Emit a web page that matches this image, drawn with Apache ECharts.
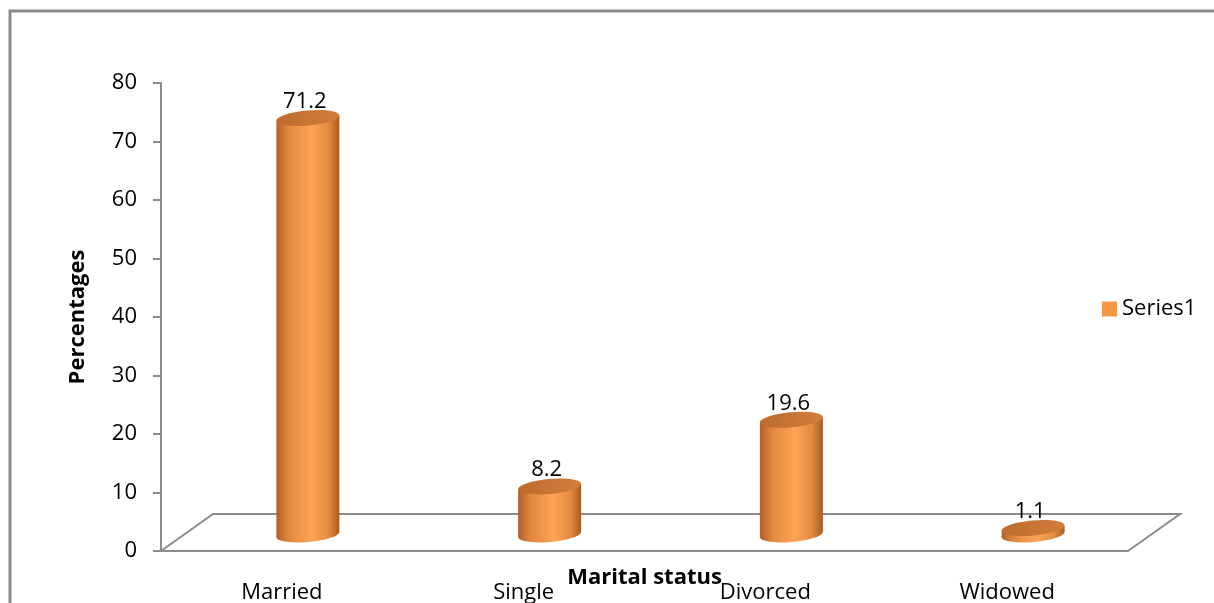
<!DOCTYPE html>
<html lang="en">

<head>
    <meta charset="UTF-8">
    <title>Marital status</title>
    <script src="https://cdn.jsdelivr.net/npm/echarts@6/dist/echarts.min.js"></script>
</head>

<body style="margin:0">
    <div id="myCharts" style="width: 1214px;height:603px;background:#fff;"></div>

    <script type="text/javascript">
        // 数据
        var categories = ['Married', 'Single', 'Divorced', 'Widowed']
        var percentages = [71.2, 8.2, 19.6, 1.1]
        var yTicks = [0, 10, 20, 30, 40, 50, 60, 70, 80]

        var depthX = 52, depthY = 37   // 地板深度
        var barW = 63, ellRy = 7.5, tilt = 0.09
        var font = 'Open Sans'

        var bodyColor = {
            type: 'linear', x: 0, y: 0, x2: 1, y2: 0,
            colorStops: [
                { offset: 0, color: '#b0602a' },
                { offset: 0.2, color: '#e2893f' },
                { offset: 0.55, color: '#fda456' },
                { offset: 0.82, color: '#e68c41' },
                { offset: 1, color: '#a95a20' }
            ]
        }
        var topColor = {
            type: 'linear', x: 0, y: 0, x2: 1, y2: 0,
            colorStops: [
                { offset: 0, color: '#bd6b30' },
                { offset: 1, color: '#d27d3a' }
            ]
        }

        var myChart = echarts.init(document.getElementById('myCharts'))

        function cylinder(params, api) {
            var base = api.coord([api.value(0), 0])
            var top = api.coord([api.value(0), api.value(1)])
            var cx = base[0] + depthX / 2
            var by = base[1] - depthY / 2 + 2
            var ty = top[1] - depthY / 2 + 2
            var rx = barW / 2
            var t = rx * Math.tan(tilt)
            return {
                type: 'group',
                children: [
                    {
                        type: 'ellipse',
                        shape: { cx: 0, cy: 0, rx: rx, ry: ellRy },
                        x: cx, y: by, rotation: tilt,
                        style: { fill: bodyColor }
                    },
                    {
                        type: 'polygon',
                        shape: { points: [[cx - rx, ty + t], [cx + rx, ty - t], [cx + rx, by - t], [cx - rx, by + t]] },
                        style: { fill: bodyColor }
                    },
                    {
                        type: 'ellipse',
                        shape: { cx: 0, cy: 0, rx: rx, ry: ellRy },
                        x: cx, y: ty, rotation: tilt,
                        style: { fill: topColor }
                    },
                    {
                        type: 'text',
                        x: cx - 3, y: ty - ellRy + 2,
                        style: {
                            text: String(api.value(1)),
                            align: 'center', verticalAlign: 'bottom',
                            font: '22px "Open Sans"', fill: '#000'
                        }
                    }
                ]
            }
        }

        function floor(params, api) {
            var g = params.coordSys
            var x0 = g.x, y0 = g.y + g.height, x1 = g.x + g.width
            return {
                type: 'polyline',
                shape: { points: [[x0, y0], [x0 + depthX, y0 - depthY], [x1 + depthX, y0 - depthY], [x1, y0]] },
                style: { stroke: '#8c8c8c', lineWidth: 2, fill: null }
            }
        }

        var option = {
            animation: false,
            graphic: [{
                type: 'rect',
                shape: { x: 10, y: 11, width: 1400, height: 800 },
                style: { fill: null, stroke: '#8a8a8a', lineWidth: 3 },
                z: -10
            }],
            legend: {
                data: ['Series1'],
                orient: 'vertical',
                left: 1102,
                top: 298,
                padding: 0,
                icon: 'rect',
                itemWidth: 15,
                itemHeight: 15,
                itemGap: 5,
                textStyle: { fontFamily: font, fontSize: 22, color: '#000' }
            },
            grid: { left: 161, right: 86, top: 83, bottom: 52, outerBoundsMode: 'none', containLabel: false },
            xAxis: {
                type: 'category',
                data: categories,
                name: 'Marital status',
                nameLocation: 'middle',
                nameGap: 16,
                nameMoveOverlap: false,
                nameTextStyle: { fontFamily: font, fontSize: 22, fontWeight: 'bold', color: '#000' },
                axisLine: { show: true, lineStyle: { color: '#8c8c8c', width: 2 } },
                axisTick: { show: false },
                axisLabel: { margin: 31, fontFamily: font, fontSize: 22, color: '#000' }
            },
            yAxis: {
                type: 'value',
                min: 0,
                max: yTicks[yTicks.length - 1],
                interval: yTicks[1] - yTicks[0],
                name: 'Percentages',
                nameLocation: 'middle',
                nameRotate: 90,
                nameGap: 72,
                nameTextStyle: { fontFamily: font, fontSize: 22, fontWeight: 'bold', color: '#000' },
                axisLine: { show: true, lineStyle: { color: '#8c8c8c', width: 2 } },
                axisTick: { show: true, length: 8, lineStyle: { color: '#8c8c8c', width: 2 } },
                splitLine: { show: false },
                axisLabel: { margin: 24, fontFamily: font, fontSize: 22, color: '#000' }
            },
            series: [
                {
                    name: 'floor',
                    type: 'custom',
                    renderItem: floor,
                    data: [[0, 0]],
                    silent: true,
                    z: 1
                },
                {
                    name: 'Series1',
                    type: 'custom',
                    renderItem: cylinder,
                    itemStyle: { color: '#f79646' },
                    data: percentages.map(function (v, i) { return [i, v] }),
                    z: 2
                }
            ]
        }
        myChart.setOption(option)
    </script>
</body>

</html>
